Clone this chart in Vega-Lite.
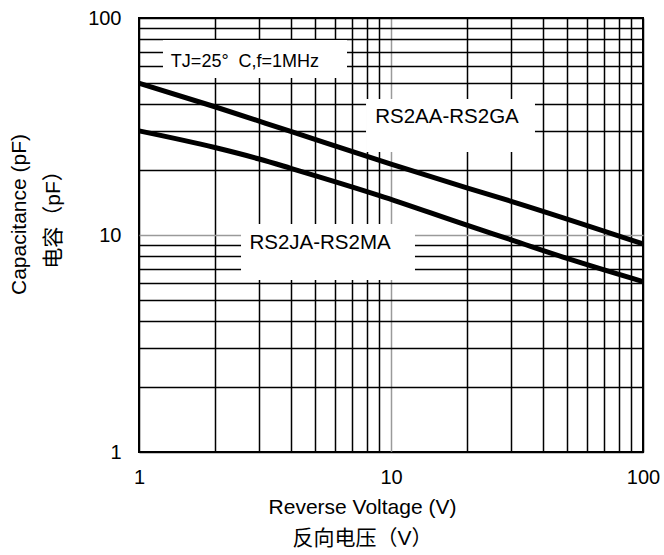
{
  "$schema": "https://vega.github.io/schema/vega-lite/v6.json",
  "width": 504,
  "height": 434,
  "autosize": {"type": "none"},
  "padding": {"left": 139, "top": 18, "right": 21, "bottom": 103},
  "background": "white",
  "config": {
    "view": {"stroke": "black", "strokeWidth": 2},
    "font": "Liberation Sans"
  },
  "datasets": {
    "curves": [
      {"series": "RS2AA-RS2GA", "v": 1, "c": 50},
      {"series": "RS2AA-RS2GA", "v": 2, "c": 39},
      {"series": "RS2AA-RS2GA", "v": 4, "c": 30},
      {"series": "RS2AA-RS2GA", "v": 10, "c": 21.2},
      {"series": "RS2AA-RS2GA", "v": 20, "c": 16.5},
      {"series": "RS2AA-RS2GA", "v": 30, "c": 14.3},
      {"series": "RS2AA-RS2GA", "v": 100, "c": 9.1},
      {"series": "RS2JA-RS2MA", "v": 1, "c": 30.2},
      {"series": "RS2JA-RS2MA", "v": 2, "c": 25.3},
      {"series": "RS2JA-RS2MA", "v": 3, "c": 22.4},
      {"series": "RS2JA-RS2MA", "v": 4, "c": 20.3},
      {"series": "RS2JA-RS2MA", "v": 9, "c": 15.2},
      {"series": "RS2JA-RS2MA", "v": 20, "c": 11.1},
      {"series": "RS2JA-RS2MA", "v": 30, "c": 9.5},
      {"series": "RS2JA-RS2MA", "v": 50, "c": 7.8},
      {"series": "RS2JA-RS2MA", "v": 100, "c": 6.1}
    ],
    "boxes": [
      {"x1": 1.245, "x2": 6.69, "y1": 52.9, "y2": 79.2},
      {"x1": 7.96, "x2": 37.27, "y1": 24.1, "y2": 42.3},
      {"x1": 2.54, "x2": 12.45, "y1": 6.2, "y2": 11.24}
    ],
    "labels": [
      {"text": "TJ=25°\u00a0\u00a0C,f=1MHz", "x": 2.634, "y": 62.7, "size": "small"},
      {"text": "RS2AA-RS2GA", "x": 16.68, "y": 34.8, "size": "big"},
      {"text": "RS2JA-RS2MA", "x": 5.23, "y": 9.16, "size": "big"}
    ]
  },
  "layer": [
    {
      "data": {"name": "boxes"},
      "mark": {"type": "rect", "fill": "white", "stroke": null},
      "encoding": {
        "x": {
          "field": "x1", "type": "quantitative",
          "scale": {"type": "log", "domain": [1, 100], "nice": false},
          "axis": {
            "values": [1,2,3,4,5,6,7,8,9,10,20,30,40,50,60,70,80,90,100],
            "labelExpr": "datum.value == 1 || datum.value == 10 || datum.value == 100 ? '' + datum.value : ''",
            "grid": true,
            "gridColor": {"condition": {"test": "datum.value == 10", "value": "#9a9a9a"}, "value": "black"},
            "gridWidth": 1.5,
            "gridOpacity": 1,
            "ticks": false,
            "domain": false,
            "labelFontSize": 20,
            "labelColor": "black",
            "labelPadding": 15,
            "labelFlush": false,
            "labelOverlap": false,
            "title": ["Reverse Voltage (V)", "反向电压（V）"],
            "titleFont": "Liberation Sans, Noto Sans CJK SC",
            "titleFontSize": 21,
            "titleFontWeight": "normal",
            "titleColor": "black",
            "titleLineHeight": 31,
            "titlePadding": 9,
            "titleX": 223
          }
        },
        "x2": {"field": "x2"},
        "y": {
          "field": "y1", "type": "quantitative",
          "scale": {"type": "log", "domain": [1, 100], "nice": false},
          "axis": {
            "values": [1,2,3,4,5,6,7,8,9,10,20,30,40,50,60,70,80,90,100],
            "labelExpr": "datum.value == 1 || datum.value == 10 || datum.value == 100 ? '' + datum.value : ''",
            "grid": true,
            "gridColor": {"condition": {"test": "datum.value == 10", "value": "#9a9a9a"}, "value": "black"},
            "gridWidth": 1.5,
            "gridOpacity": 1,
            "ticks": false,
            "domain": false,
            "labelFontSize": 20,
            "labelColor": "black",
            "labelPadding": 18,
            "labelFlush": false,
            "labelOverlap": false,
            "title": ["Capacitance (pF)", "电容（pF）"],
            "titleFont": "Liberation Sans, Noto Sans CJK SC",
            "titleFontSize": 21,
            "titleFontWeight": "normal",
            "titleColor": "black",
            "titleLineHeight": 34,
            "titlePadding": 24,
            "titleY": 196
          }
        },
        "y2": {"field": "y2"}
      }
    },
    {
      "data": {"name": "curves"},
      "mark": {"type": "line", "color": "black", "strokeWidth": 5, "strokeCap": "butt", "interpolate": "monotone"},
      "encoding": {
        "x": {"field": "v", "type": "quantitative"},
        "y": {"field": "c", "type": "quantitative"},
        "detail": {"field": "series"}
      }
    },
    {
      "data": {"name": "labels"},
      "mark": {"type": "text", "color": "black", "align": "center", "baseline": "middle", "font": "Liberation Sans"},
      "encoding": {
        "x": {"field": "x", "type": "quantitative"},
        "y": {"field": "y", "type": "quantitative"},
        "text": {"field": "text"},
        "size": {
          "field": "size", "type": "nominal",
          "scale": {"domain": ["small", "big"], "range": [18, 20.5]},
          "legend": null
        }
      }
    }
  ]
}
